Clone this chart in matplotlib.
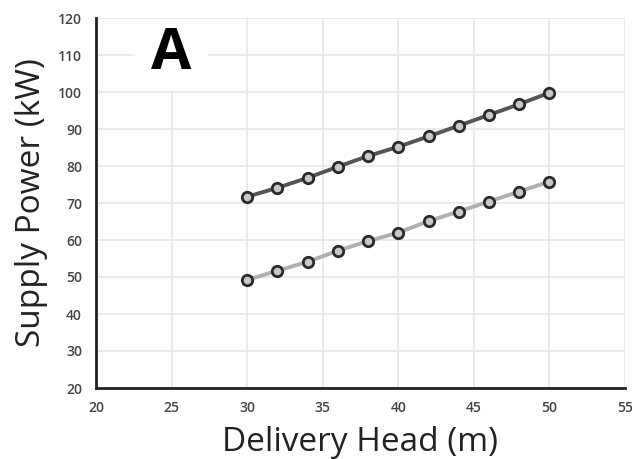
import matplotlib.pyplot as plt
from matplotlib.patches import Rectangle

plt.rcParams['font.family'] = ['Open Sans', 'DejaVu Sans']

head = [30, 32, 34, 36, 38, 40, 42, 44, 46, 48, 50]
power_upper = [71.7, 74.1, 76.8, 79.8, 82.7, 85.2, 88.0, 90.9, 93.8, 96.7, 99.8]
power_lower = [49.2, 51.7, 54.1, 57.1, 59.7, 62.0, 65.1, 67.7, 70.4, 73.1, 75.8]

x_ticks = [20, 25, 30, 35, 40, 45, 50, 55]
y_ticks = [20, 30, 40, 50, 60, 70, 80, 90, 100, 110, 120]

fig = plt.figure(figsize=(6.32, 4.59), dpi=100)
ax = fig.add_axes([96 / 632, 1 - 388 / 459, 529 / 632, 370 / 459])

ax.plot(head, power_upper, color='#555555', lw=2.8, marker='o', ms=7.5,
        mfc='#c8c8c8', mec='#2a2a2a', mew=2, zorder=3)
ax.plot(head, power_lower, color='#b0b0b0', lw=2.8, marker='o', ms=7.5,
        mfc='#c8c8c8', mec='#2a2a2a', mew=2, zorder=3)

ax.set_xlim(20, 55)
ax.set_ylim(20, 120)
ax.set_xticks(x_ticks)
ax.set_yticks(y_ticks)
ax.tick_params(length=0, labelsize=10, colors='#444444')
ax.tick_params(axis='x', pad=9)
ax.tick_params(axis='y', pad=10)
for lab in ax.get_xticklabels() + ax.get_yticklabels():
    lab.set_fontweight('semibold')
ax.grid(True, color='#e8e8e8', lw=1.2)
ax.set_axisbelow(True)

for s in ['top', 'right']:
    ax.spines[s].set_visible(False)
for s in ['left', 'bottom']:
    ax.spines[s].set_color('#222222')
    ax.spines[s].set_linewidth(2)

ax.set_xlabel('Delivery Head (m)', fontsize=24, color='#222222', labelpad=8)
ax.set_ylabel('Supply Power (kW)', fontsize=24, color='#222222', labelpad=7)

# white panel behind the panel letter
ax.add_patch(Rectangle((22.6, 100.4), 4.8, 19.3, facecolor='white',
                       edgecolor='none', zorder=1.5))
ax.text(25, 110.3, 'A', fontsize=42, fontweight='bold', ha='center',
        va='center', color='black', zorder=2)

fig.savefig('out.png', dpi=100)
